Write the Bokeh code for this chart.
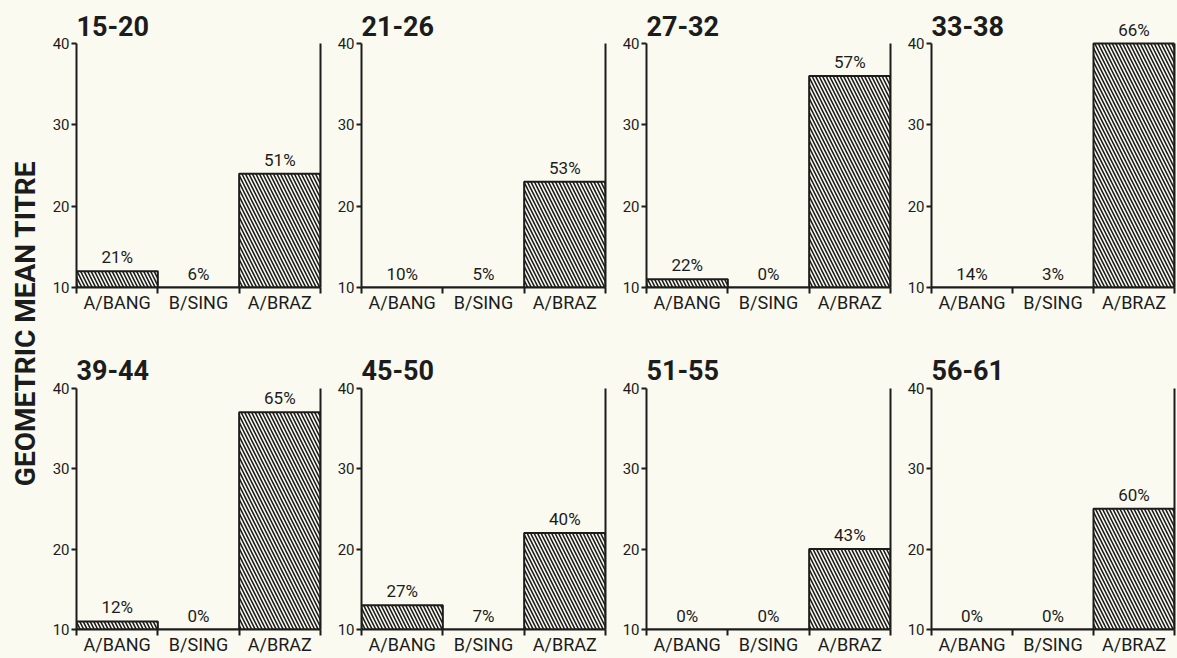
import math
from bokeh.plotting import figure
from bokeh.models import (Range1d, FixedTicker, LinearAxis, Label, ColumnDataSource,
                          GlobalInlineStyleSheet)
from bokeh.layouts import row, column
from bokeh.embed import file_html
from bokeh.resources import INLINE
from bokeh.core.properties import value

# ---------------- data ----------------
groups = ["15-20", "21-26", "27-32", "33-38", "39-44", "45-50", "51-55", "56-61"]
strains = ["A/BANG", "B/SING", "A/BRAZ"]
a_bang = [12, 10, 11, 10, 11, 13, 10, 10]
b_sing = [10, 10, 10, 10, 10, 10, 10, 10]
a_braz = [24, 23, 36, 40, 37, 22, 20, 25]
pct_a_bang = [21, 10, 22, 14, 12, 27, 0, 0]
pct_b_sing = [6, 5, 0, 3, 0, 7, 0, 0]
pct_a_braz = [51, 53, 57, 66, 65, 40, 43, 60]
y_ticks = [10, 20, 30, 40]
y_title = "GEOMETRIC MEAN TITRE"

# ---------------- style ----------------
BG = "#fafaf0"
INK = "#1c1c1c"
FONT = "Roboto"
Y0, Y1 = y_ticks[0], y_ticks[-1]
FRAME_PX = 244          # pixels between 10 and 40
HEAD_PX = 30            # room above the 40 line for titles / labels
Y_TOP = Y1 + (Y1 - Y0) * HEAD_PX / FRAME_PX
TOP = 13
ROW_H = [345, 312]
ROW_B = [ROW_H[0] - TOP - HEAD_PX - FRAME_PX, ROW_H[1] - TOP - HEAD_PX - FRAME_PX]
LABEL_W = 44


def make_panel(i, col, rw):
    L = 32 if col == 0 else 39
    R = 2
    FW = 243 if col == 3 else 244
    W = L + FW + R
    H = ROW_H[rw]
    B = ROW_B[rw]
    p = figure(width=W, height=H, x_range=Range1d(0, len(strains)), y_range=Range1d(Y0, Y_TOP),
               output_backend="svg", toolbar_location=None,
               min_border_left=L, min_border_right=R, min_border_top=TOP, min_border_bottom=B,
               background_fill_color=BG, border_fill_color=BG, outline_line_color=None)
    p.grid.visible = False

    vals = [a_bang[i], b_sing[i], a_braz[i]]
    pcts = [pct_a_bang[i], pct_b_sing[i], pct_a_braz[i]]
    centers = [k + 0.5 for k in range(len(strains))]
    src = ColumnDataSource(dict(
        left=[k for k in range(len(strains))],
        right=[k + 1 for k in range(len(strains))],
        top=vals, bottom=[Y0] * len(strains), x=centers,
        label=[f"{v}%" for v in pcts]))
    p.quad(left="left", right="right", top="top", bottom="bottom", source=src,
           fill_color=BG, line_color=INK, line_width=2,
           hatch_pattern="\\", hatch_color=INK, hatch_scale=7, hatch_weight=1.6)
    p.text(x="x", y="top", text="label", source=src, text_align="center",
           text_baseline="bottom", y_offset=-4, text_color=INK,
           text_font=value(FONT), text_font_size="17px")

    # x axis: labels at centres, ticks at boundaries
    xa = p.xaxis[0]
    xa.ticker = FixedTicker(ticks=centers, minor_ticks=list(range(len(strains) + 1)))
    xa.major_label_overrides = {c: s for c, s in zip(centers, strains)}
    xa.major_tick_out = 0
    xa.major_tick_in = 0
    xa.minor_tick_out = 6
    xa.minor_tick_in = 0
    xa.minor_tick_line_width = 2
    xa.minor_tick_line_color = INK
    xa.major_label_standoff = -2
    xa.axis_line_width = 2
    xa.axis_line_color = INK
    xa.major_label_text_font = FONT
    xa.major_label_text_font_size = "18px"
    xa.major_label_text_color = INK

    ya = p.yaxis[0]
    ya.ticker = FixedTicker(ticks=y_ticks)
    ya.bounds = (Y0, Y1)
    ya.major_tick_out = 5
    ya.major_tick_in = 0
    ya.major_tick_line_width = 2
    ya.major_tick_line_color = INK
    ya.minor_tick_line_color = None
    ya.axis_line_width = 2
    ya.axis_line_color = INK
    ya.major_label_standoff = 2
    ya.major_label_text_font = FONT
    ya.major_label_text_font_size = "15px"
    ya.major_label_text_color = INK

    ra = LinearAxis(ticker=FixedTicker(ticks=[]), major_label_text_font_size="0px",
                    bounds=(Y0, Y1),
                    major_tick_out=0, major_tick_in=0, minor_tick_out=0, minor_tick_in=0,
                    axis_line_width=2, axis_line_color=INK)
    p.add_layout(ra, "right")

    p.add_layout(Label(x=0, y=Y1, text=groups[i], x_offset=0, y_offset=8,
                       text_baseline="bottom", text_align="left", text_color=INK,
                       text_font=FONT, text_font_size="27px", text_font_style="bold"))
    return p


panels = [make_panel(i, i % 4, i // 4) for i in range(len(groups))]

total_h = sum(ROW_H)
lab = figure(width=LABEL_W, height=total_h, x_range=Range1d(0, 1), y_range=Range1d(0, 1),
             output_backend="svg", toolbar_location=None, min_border=0,
             x_axis_location=None, y_axis_location=None,
             background_fill_color=BG, border_fill_color=BG, outline_line_color=None)
lab.grid.visible = False
lab.add_layout(Label(x=25, y=total_h - 323, x_units="screen", y_units="screen", text=y_title,
                     angle=math.pi / 2, text_align="center", text_baseline="middle",
                     text_color=INK, text_font=FONT, text_font_size="28px",
                     text_font_style="bold"))

layout = row(lab, column(row(*panels[:4]), row(*panels[4:])))
layout.styles = {"background-color": BG}
layout.stylesheets = [GlobalInlineStyleSheet(css="html, body { background-color: %s; }" % BG)]

open("out.html", "w").write(file_html(layout, INLINE))
